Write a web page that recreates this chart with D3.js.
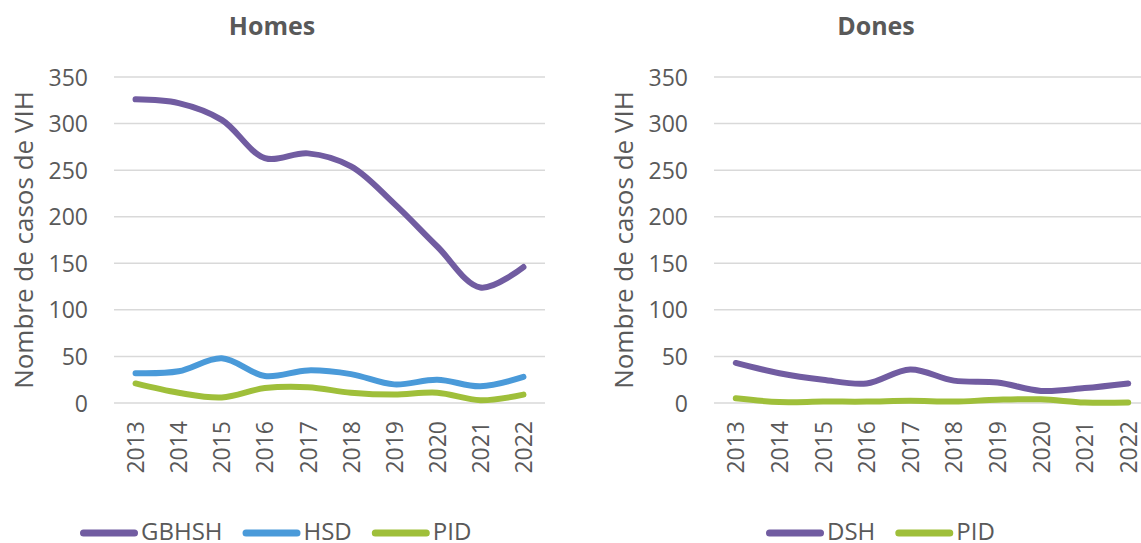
<!DOCTYPE html>
<html><head><meta charset="utf-8">
<script src="https://cdn.jsdelivr.net/npm/d3@7"></script>
<style>
body{margin:0;background:#fff;}
svg text{font-family:"Open Sans",sans-serif;}
</style></head>
<body><svg id="c" width="1141" height="543"></svg>
<script>
const years = ["2013","2014","2015","2016","2017","2018","2019","2020","2021","2022"];
const yTicks = [0,50,100,150,200,250,300,350];
const homesGBHSH = [326,322,304,263,268,254,214,168,124,146];
const homesHSD = [32,34,48,29,35,31,20,25,18,28];
const homesPID = [21,11,6,16,17,11,9,11,3,9];
const donesDSH = [43,32,25,21,36,24,22,13,16,21];
const donesPID = [5,1,1.5,1.5,2.5,1.5,3.5,4,0.5,0.5];

const colors = {purple:"#715ca1", blue:"#4a9ad9", green:"#9fbf3a"};

const panels = [
  {title:"Homes", titleX:272, x0:114, x1:545, legendX:80, series:[
    {name:"GBHSH", values:homesGBHSH, color:colors.purple},
    {name:"HSD", values:homesHSD, color:colors.blue},
    {name:"PID", values:homesPID, color:colors.green}]},
  {title:"Dones", titleX:876, x0:714, x1:1150, legendX:766, series:[
    {name:"DSH", values:donesDSH, color:colors.purple},
    {name:"PID", values:donesPID, color:colors.green}]}
];

const svg = d3.select("#c");
const yTop = 77, yBot = 403;
const y = d3.scaleLinear().domain([0,350]).range([yBot,yTop]);

panels.forEach((p,pi)=>{
  const off = p.x0 - 114;
  const g = svg.append("g");
  const x = d3.scalePoint().domain(years).range([p.x0,p.x1]).padding(0.5);
  g.selectAll("line.grid").data(yTicks).join("line")
    .attr("x1",p.x0).attr("x2",p.x1)
    .attr("y1",d=>y(d)).attr("y2",d=>y(d))
    .attr("stroke","#d9d9d9").attr("stroke-width",1.5);
  const yAxis = d3.axisLeft(y).tickValues(yTicks).tickSize(0).tickPadding(0);
  const ya = g.append("g").attr("transform",`translate(${88+off},0)`).call(yAxis);
  ya.select(".domain").remove();
  ya.selectAll("text").attr("font-size",23).attr("fill","#595959").attr("font-family","'Open Sans',sans-serif").attr("dy","0.35em");
  const xAxis = d3.axisBottom(x).tickSize(0).tickPadding(0);
  const xa = g.append("g").attr("transform",`translate(0,${yBot})`).call(xAxis);
  xa.select(".domain").remove();
  xa.selectAll("text").attr("font-size",23).attr("fill","#595959").attr("font-family","'Open Sans',sans-serif")
    .attr("transform","rotate(-90)").attr("text-anchor","end")
    .attr("x",-18).attr("y",0).attr("dy","0.35em");
  g.append("text").attr("transform",`translate(${33+off},${240}) rotate(-90)`)
    .attr("text-anchor","middle").attr("font-size",26).attr("fill","#595959")
    .text("Nombre de casos de VIH");
  g.append("text").attr("x",p.titleX).attr("y",35)
    .attr("text-anchor","middle").attr("font-size",25).attr("font-weight","bold").attr("fill","#595959")
    .text(p.title);
  const line = d3.line().x((d,i)=>x(years[i])).y(d=>y(d)).curve(d3.curveCatmullRom.alpha(0.5));
  p.series.forEach(s=>{
    g.append("path").attr("d",line(s.values)).attr("fill","none")
      .attr("stroke",s.color).attr("stroke-width",6).attr("stroke-linecap","round").attr("stroke-linejoin","round");
  });
  let lx = p.legendX;
  p.series.forEach((s,i)=>{
    g.append("line").attr("x1",lx+3.5).attr("x2",lx+54.5).attr("y1",533).attr("y2",533)
      .attr("stroke",s.color).attr("stroke-width",7).attr("stroke-linecap","round");
    const t = g.append("text").attr("x",lx+61).attr("y",540).attr("font-size",24).attr("fill","#595959").text(s.name);
    lx = lx + 61 + t.node().getComputedTextLength() + 20;
  });
});
</script></body></html>
